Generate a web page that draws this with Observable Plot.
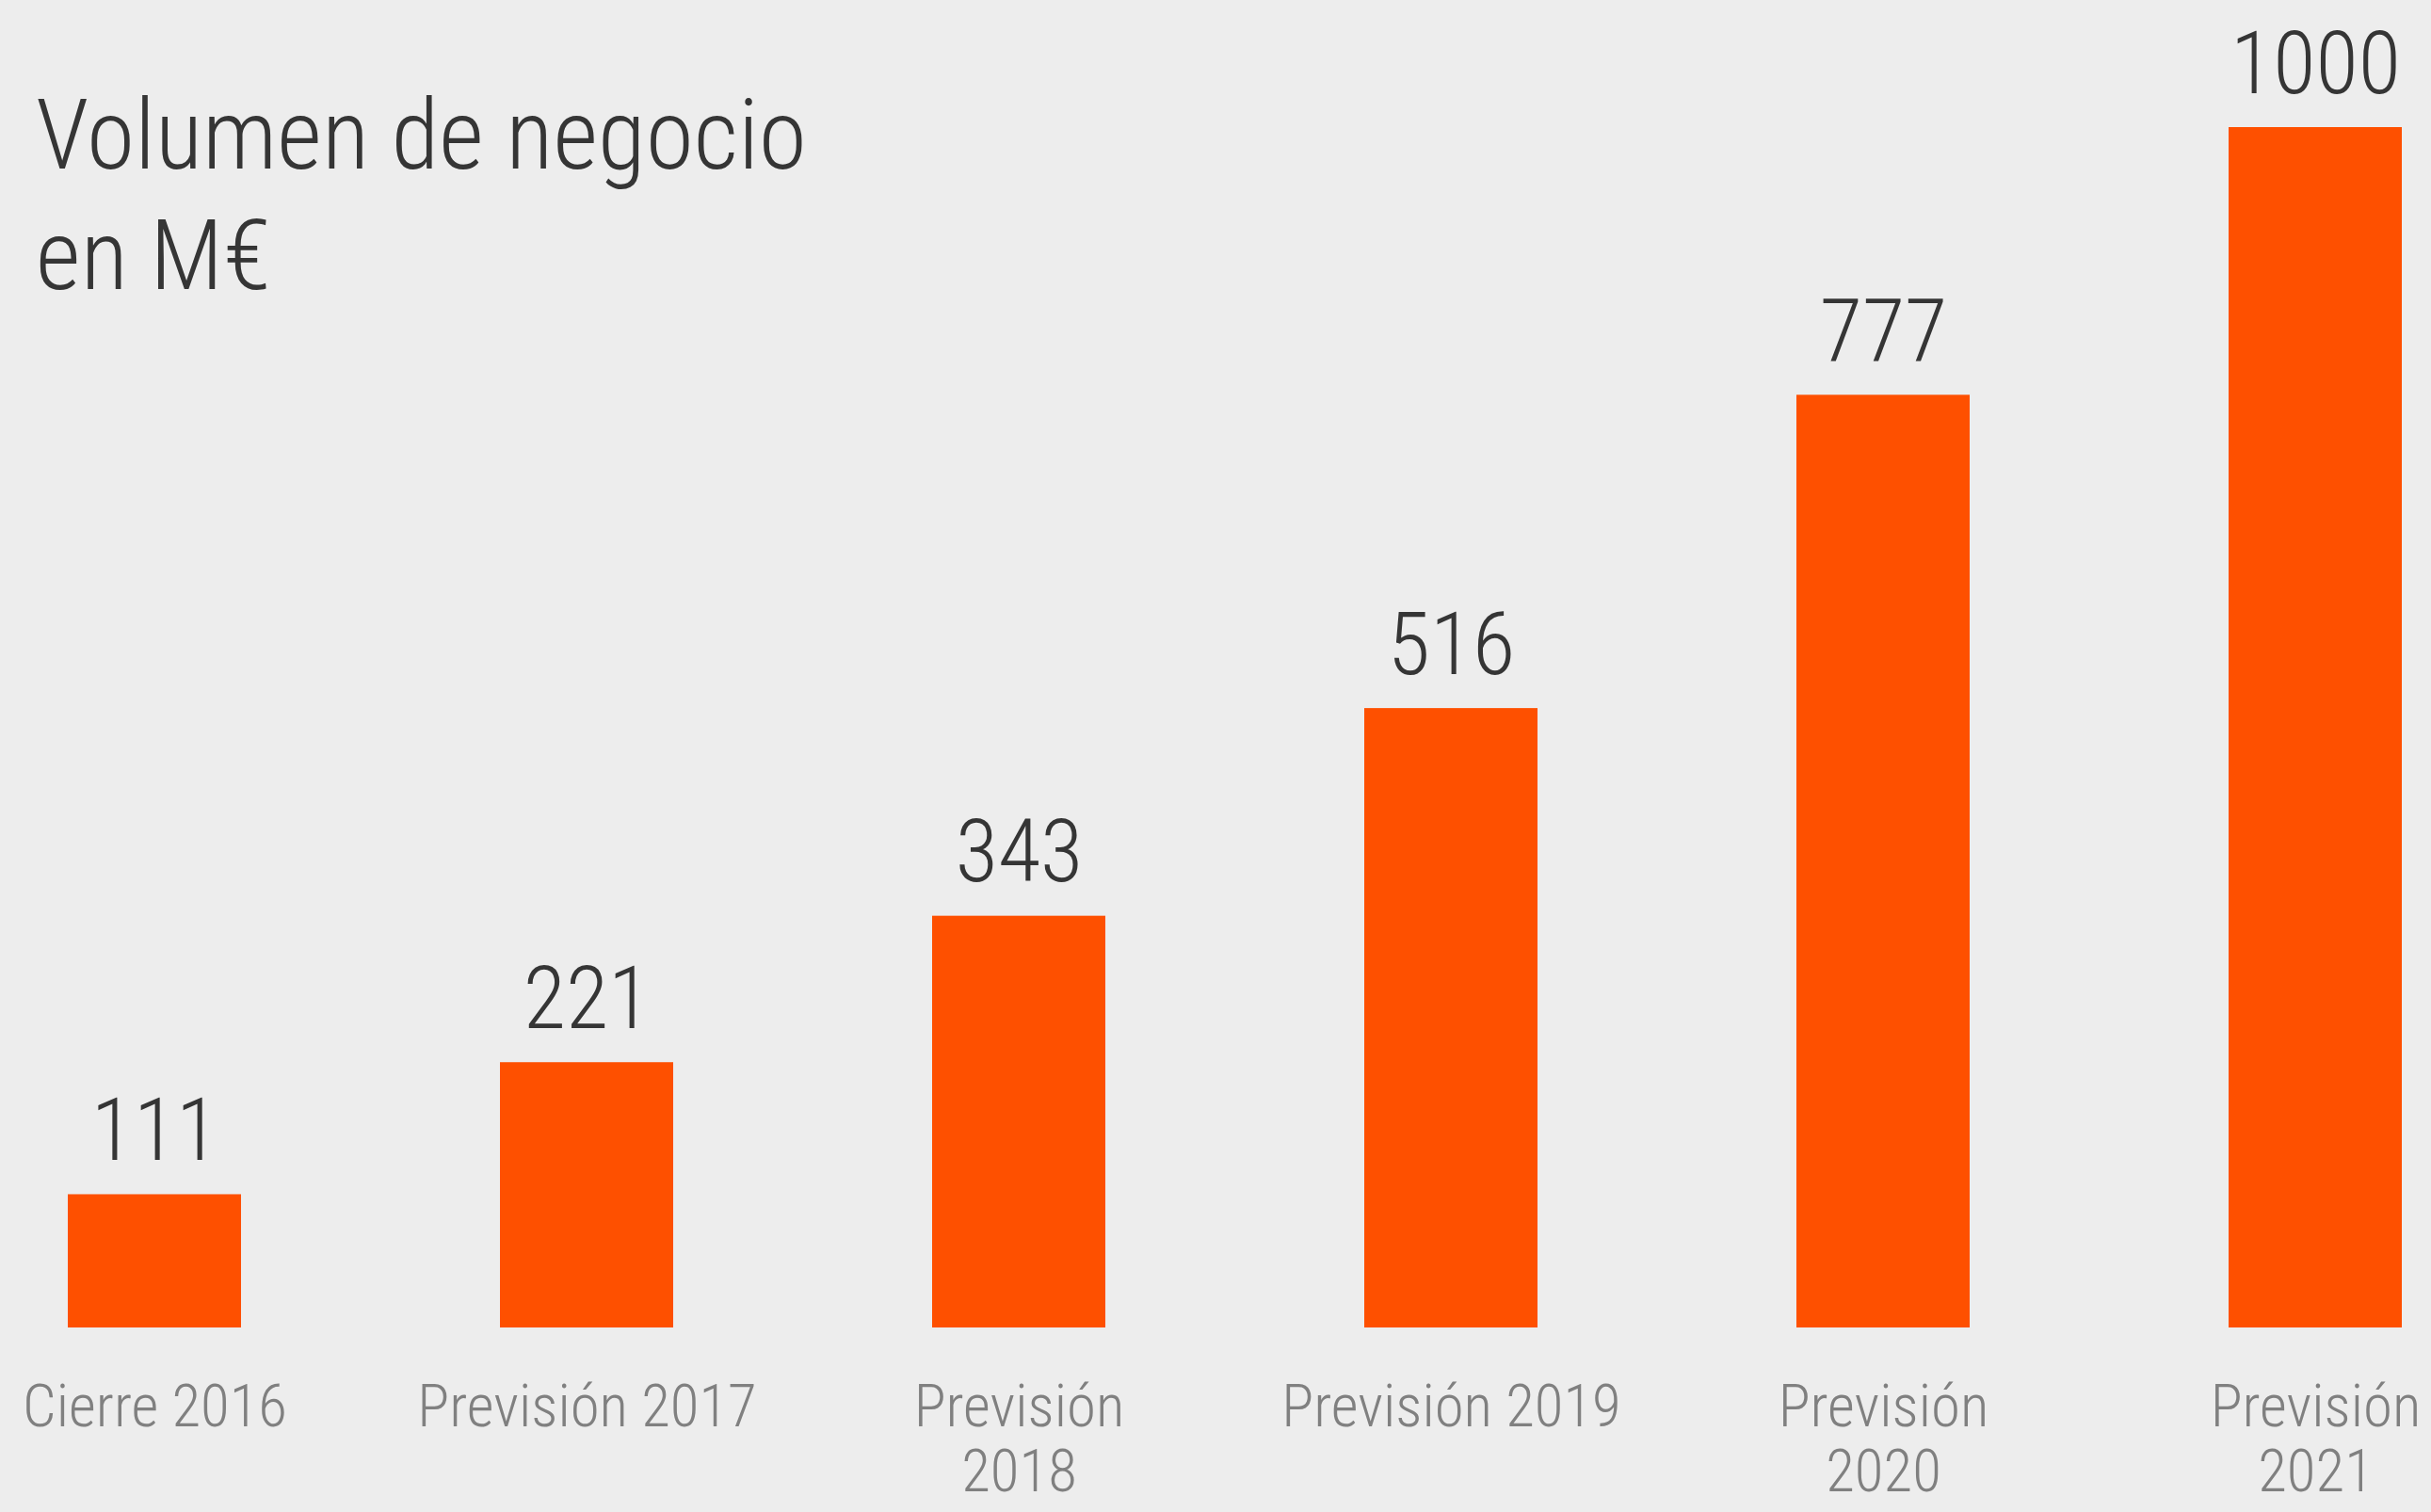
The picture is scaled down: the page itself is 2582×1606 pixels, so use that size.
<!DOCTYPE html>
<html><head><meta charset="utf-8">
<script src="https://cdn.jsdelivr.net/npm/d3@7"></script>
<script src="https://cdn.jsdelivr.net/npm/@observablehq/plot@0.6"></script>
<style>
html,body{margin:0;padding:0;background:#ededed;}
#wrap{position:relative;width:2582px;height:1606px;overflow:hidden;}
#title{position:absolute;left:38px;top:80px;font-family:"Roboto Condensed","Open Sans",sans-serif;font-weight:300;font-size:104px;line-height:128px;color:#353535;margin:0;}
#chart svg{display:block;}
#chart svg text{font-weight:300;}
</style></head><body>
<div id="wrap"><div id="chart"></div><h1 id="title">Volumen de negocio<br>en M€</h1></div>
<script>
const categories = ["Cierre 2016", "Previsión 2017", "Previsión 2018", "Previsión 2019", "Previsión 2020", "Previsión 2021"];
const tickLabels = ["Cierre 2016", "Previsión 2017", "Previsión\n2018", "Previsión 2019", "Previsión\n2020", "Previsión\n2021"];
const values = [111, 221, 343, 516, 777, 1000];

const data = categories.map((c, i) => ({category: c, value: values[i]}));
const labelOf = new Map(categories.map((c, i) => [c, tickLabels[i]]));

const chart = Plot.plot({
  width: 2582,
  height: 1606,
  marginLeft: 72,
  marginRight: 31,
  marginTop: 135,
  marginBottom: 196,
  style: {background: "#ededed", color: "#808080", fontFamily: "'Roboto Condensed','Open Sans',sans-serif"},
  x: {domain: categories, paddingInner: 0.6, paddingOuter: 0, label: null},
  y: {domain: [0, 1000], axis: null},
  marks: [
    Plot.barY(data, {x: "category", y: "value", fill: "#fe5000"}),
    Plot.text(data, {x: "category", y: "value", text: d => String(d.value), lineAnchor: "bottom", dy: -37, fontSize: 93, fill: "#353535"}),
    Plot.axisX({tickSize: 0, tickPadding: 55, fontSize: 63, lineHeight: 1.1, tickFormat: d => labelOf.get(d), label: null})
  ]
});
document.getElementById("chart").appendChild(chart);
</script>
</body></html>
